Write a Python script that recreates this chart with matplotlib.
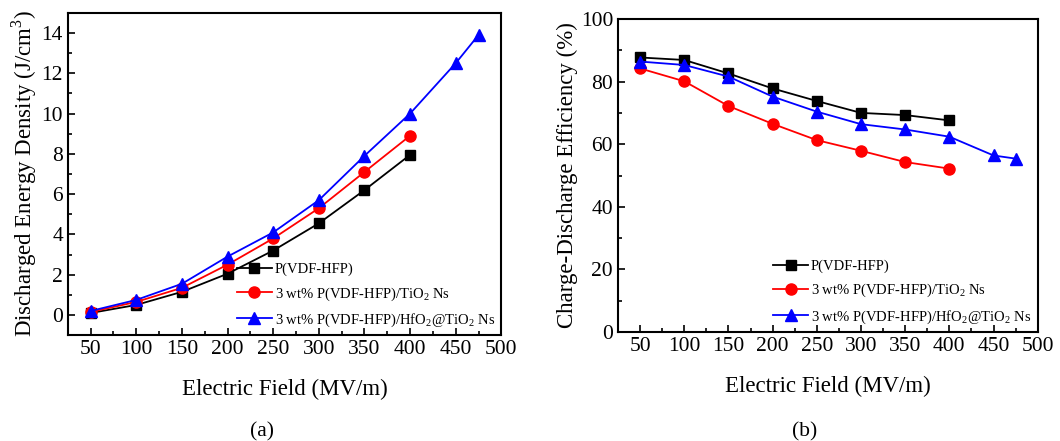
import matplotlib.pyplot as plt
from matplotlib.ticker import MultipleLocator

plt.rcParams['font.family'] = ['Liberation Serif', 'DejaVu Serif']
plt.rcParams['mathtext.fontset'] = 'custom'
plt.rcParams['mathtext.rm'] = 'Liberation Serif'

field = [50, 100, 150, 200, 250, 300, 350, 400]
field_hfo = [50, 100, 150, 200, 250, 300, 350, 400, 450, 475]

# discharged energy density (J/cm3)
ud_pure = [0.1, 0.5, 1.15, 2.05, 3.2, 4.55, 6.2, 7.95]
ud_tio2 = [0.15, 0.65, 1.35, 2.5, 3.8, 5.3, 7.1, 8.9]
ud_hfo = [0.2, 0.75, 1.55, 2.9, 4.1, 5.7, 7.9, 10.0, 12.5, 13.9]

# charge-discharge efficiency (%)
eff_pure = [87.7, 86.9, 82.6, 77.8, 73.8, 70.0, 69.3, 67.6]
eff_tio2 = [84.2, 80.1, 72.2, 66.5, 61.3, 57.9, 54.3, 52.2]
eff_hfo = [86.4, 85.3, 81.6, 75.2, 70.4, 66.4, 64.7, 62.4, 56.4, 55.4]

labels = ['P(VDF-HFP)',
          '3 wt% P(VDF-HFP)/TiO$_2$ Ns',
          '3 wt% P(VDF-HFP)/HfO$_2$@TiO$_2$ Ns']

fig = plt.figure(figsize=(10.6, 4.41), dpi=100)
ax1 = fig.add_axes([0.064, 0.240, 0.409, 0.731])
ax2 = fig.add_axes([0.583, 0.247, 0.396, 0.710])


def draw(ax, y1, y2, y3):
    ax.plot(field, y1, 'k-', marker='s', ms=7, lw=1.3, label=labels[0])
    ax.plot(field, y2, 'r-', marker='o', ms=8, lw=1.3, label=labels[1])
    ax.plot(field_hfo, y3, 'b-', marker='^', ms=8.5, lw=1.3, label=labels[2])
    ax.set_xlim(25, 500)
    ax.xaxis.set_major_locator(MultipleLocator(50))
    ax.xaxis.set_minor_locator(MultipleLocator(25))
    ax.tick_params(which='both', direction='in', top=False, right=False,
                   labelsize=15.5, width=1.2)
    ax.tick_params(which='major', length=5)
    ax.tick_params(which='minor', length=3)
    for s in ax.spines.values():
        s.set_linewidth(1.5)
    ax.set_xlabel('Electric Field (MV/m)', fontsize=16.5, labelpad=14)
    ax.legend(loc='lower right', frameon=False, fontsize=10.5, handlelength=2.4,
              handletextpad=0.2, labelspacing=0.6, borderaxespad=0.05)


draw(ax1, ud_pure, ud_tio2, ud_hfo)
ax1.set_ylim(-1, 15)
ax1.yaxis.set_major_locator(MultipleLocator(2))
ax1.yaxis.set_minor_locator(MultipleLocator(1))
ax1.set_ylabel('Discharged Energy Density (J/cm$^3$)', fontsize=16.5, labelpad=2)

draw(ax2, eff_pure, eff_tio2, eff_hfo)
ax2.set_ylim(0, 100)
ax2.yaxis.set_major_locator(MultipleLocator(20))
ax2.yaxis.set_minor_locator(MultipleLocator(10))
ax2.set_ylabel('Charge-Discharge Efficiency (%)', fontsize=16.5, labelpad=2)

fig.text(0.247, 0.01, '(a)', fontsize=15.5, ha='center')
fig.text(0.759, 0.01, '(b)', fontsize=15.5, ha='center')

plt.savefig('out.png')
